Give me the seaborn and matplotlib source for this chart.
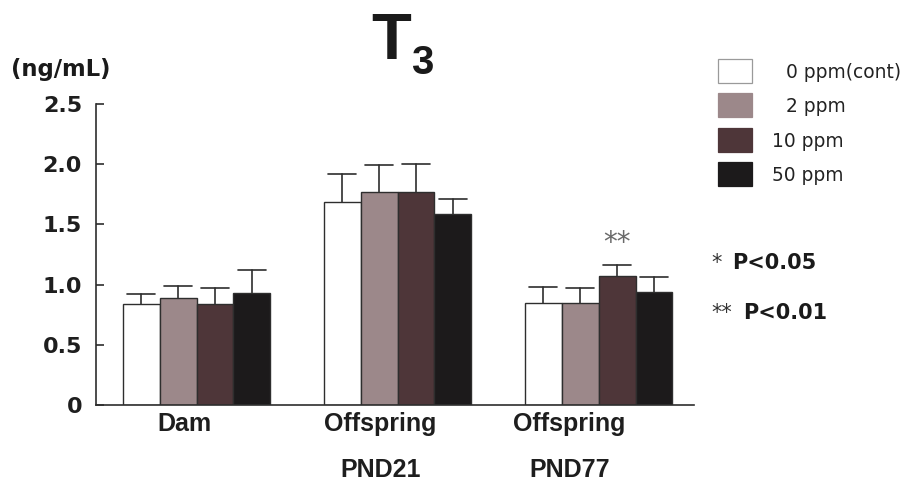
import numpy as np
import pandas as pd
import seaborn as sns
import matplotlib.pyplot as plt
from matplotlib.patches import Rectangle
from matplotlib.transforms import ScaledTranslation

groups = ["Dam", "Offspring\nPND21", "Offspring\nPND77"]
doses = ["0 ppm(cont)", "2 ppm", "10 ppm", "50 ppm"]
dose_colors = ["#ffffff", "#9c888a", "#4e3639", "#1c1a1b"]

# mean T3 (ng/mL) per group, one list per dose
mean_0 = [0.84, 1.69, 0.85]
mean_2 = [0.89, 1.77, 0.85]
mean_10 = [0.84, 1.77, 1.07]
mean_50 = [0.93, 1.59, 0.94]
# upper error (SD) per group, one list per dose
err_0 = [0.08, 0.23, 0.13]
err_2 = [0.10, 0.22, 0.12]
err_10 = [0.13, 0.23, 0.09]
err_50 = [0.19, 0.12, 0.12]

yticks = [0, 0.5, 1.0, 1.5, 2.0, 2.5]
ytick_labels = ["0", "0.5", "1.0", "1.5", "2.0", "2.5"]

means = [mean_0, mean_2, mean_10, mean_50]
errs = [err_0, err_2, err_10, err_50]

df = pd.DataFrame({
    "group": [g for _ in doses for g in groups],
    "dose": [d for d in doses for _ in groups],
    "value": [v for m in means for v in m],
})

sns.set_style("white")
plt.rcParams["font.family"] = ["DejaVu Sans"]

W, H = 911, 484
fig = plt.figure(figsize=(W / 100, H / 100), dpi=100)
ax = fig.add_axes([96 / W, 1 - 405 / H, (694 - 96) / W, (405 - 104) / H])

line_col = "#2e2e2e"
sns.barplot(data=df, x="group", y="value", hue="dose", order=groups,
            hue_order=doses, palette=dose_colors, width=0.736, gap=0,
            edgecolor=line_col, linewidth=1.0, errorbar=None, ax=ax,
            legend=False, saturation=1)

# upward-only error bars with caps
for container, err in zip(ax.containers, errs):
    for bar, e in zip(container, err):
        x = bar.get_x() + bar.get_width() / 2
        h = bar.get_height()
        ax.plot([x, x], [h, h + e], color=line_col, lw=1.2, zorder=1)
        ax.plot([x - 0.07, x + 0.07], [h + e, h + e], color=line_col,
                lw=1.2, zorder=1)

ax.set_ylim(0, 2.5)
ax.set_xlim(-0.5, 2.475)
ax.set_yticks(yticks)
ax.set_yticklabels(ytick_labels, fontsize=16, fontweight="bold",
                   color="#1e1e1e")
ax.set_xticks(range(len(groups)))
ax.set_xticklabels(groups, fontsize=18, fontweight="bold", linespacing=2.15,
                   family="Liberation Sans", color="#1e1e1e")
ax.tick_params(axis="y", direction="in", length=6, width=1.2, pad=10,
               left=True, color=line_col)
ax.tick_params(axis="x", length=0, pad=5)
# group captions sit a little left of the bar-group centres
for lab, dx in zip(ax.get_xticklabels(), [-0.12, -0.17, -0.29]):
    lab.set_transform(lab.get_transform()
                      + ScaledTranslation(dx, 0, fig.dpi_scale_trans))
ax.set_xlabel("")
ax.set_ylabel("")
for s in ["top", "right"]:
    ax.spines[s].set_visible(False)
for s in ["left", "bottom"]:
    ax.spines[s].set_color(line_col)
    ax.spines[s].set_linewidth(1.2)

# significance mark over the 10 ppm PND77 bar
pnd77_10 = ax.containers[2][2]
ax.text(pnd77_10.get_x() + pnd77_10.get_width() / 2,
        mean_10[2] + err_10[2] + 0.12, "**", ha="center", va="baseline",
        fontsize=20, color="#6a6a6a")

# title and unit
fig.text(391.5 / W, 1 - 59.3 / H, "T", fontsize=47, fontweight="bold",
         family="Liberation Sans", ha="center", va="baseline",
         color="#1a1a1a")
fig.text(411 / W, 1 - 74 / H, "3", fontsize=29, fontweight="bold",
         family="Liberation Sans", ha="left", va="baseline",
         color="#1a1a1a")
fig.text(11 / W, 1 - 76 / H, "(ng/mL)", fontsize=16.4, fontweight="bold",
         ha="left", va="baseline", color="#1a1a1a")

# p-value key
fig.text(711 / W, 1 - 269 / H, "*", fontsize=15, ha="left", va="baseline",
         color="#333333")
fig.text(732 / W, 1 - 269 / H, "P<0.05", fontsize=15, fontweight="bold",
         ha="left", va="baseline", color="#1a1a1a")
fig.text(711 / W, 1 - 319 / H, "**", fontsize=15, ha="left", va="baseline",
         color="#333333")
fig.text(743 / W, 1 - 319 / H, "P<0.01", fontsize=15, fontweight="bold",
         ha="left", va="baseline", color="#1a1a1a")

# dose key
box_tops = [59, 93, 128, 162]
text_left = [786, 786, 772, 772]
for lab, col, top, tx in zip(doses, dose_colors, box_tops, text_left):
    edge = "#9a9a9a" if col == "#ffffff" else col
    fig.add_artist(Rectangle((718 / W, 1 - (top + 24) / H), 34 / W, 24 / H,
                             transform=fig.transFigure, facecolor=col,
                             edgecolor=edge, lw=0.9))
    fig.text(tx / W, 1 - (top + 12 + 6.7) / H, lab, fontsize=13.4,
             ha="left", va="baseline", color="#222222")

fig.savefig("out.png", dpi=100)
